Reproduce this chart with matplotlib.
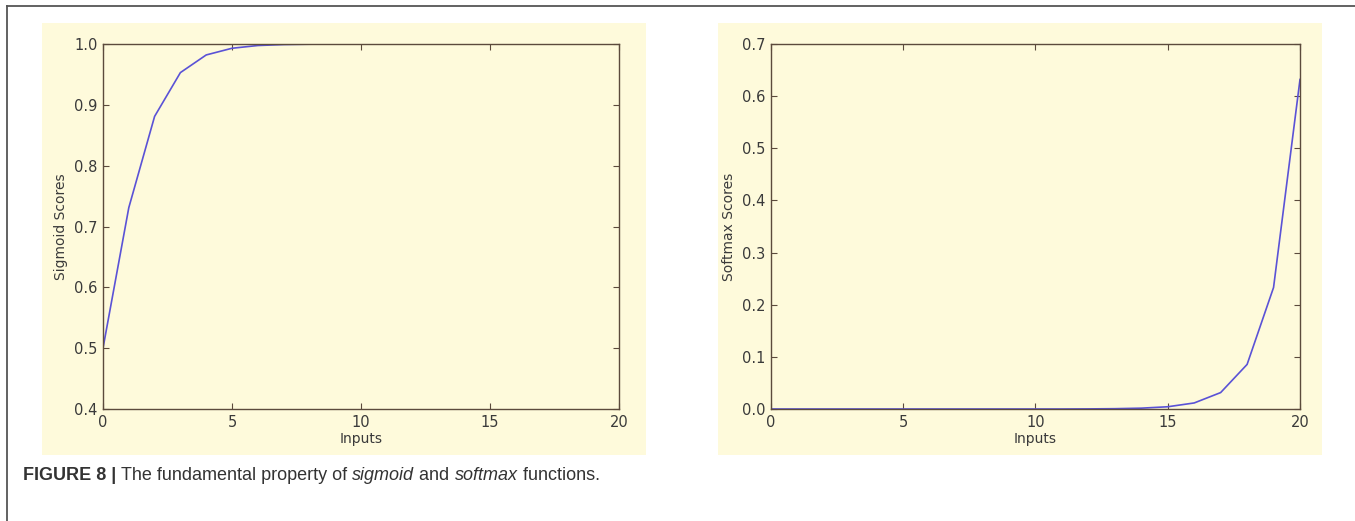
import matplotlib
matplotlib.use("Agg")
import matplotlib.pyplot as plt
from matplotlib.patches import Rectangle
from matplotlib.lines import Line2D

# values
inputs = list(range(21))
sigmoid_scores = [0.5, 0.731, 0.881, 0.953, 0.982, 0.993, 0.9975, 0.9991, 0.9997,
                  0.9999, 1.0, 1.0, 1.0, 1.0, 1.0, 1.0, 1.0, 1.0, 1.0, 1.0, 1.0]
softmax_scores = [0.0, 0.0, 0.0, 0.0, 0.0, 0.0, 0.0, 0.0, 0.0, 0.0, 0.0, 0.0,
                  0.0002, 0.0006, 0.0016, 0.0043, 0.0116, 0.0315, 0.0855, 0.233, 0.632]
sig_yticks = [0.4, 0.5, 0.6, 0.7, 0.8, 0.9, 1.0]
soft_yticks = [0.0, 0.1, 0.2, 0.3, 0.4, 0.5, 0.6, 0.7]
xticks = [0, 5, 10, 15, 20]

W, H = 1355, 521
bg = "#fefadb"
spine = "#5b4a3c"
txt = "#3a3a3a"
line_col = "#5a52d6"

fig = plt.figure(figsize=(W / 100, H / 100), dpi=100)


def px(x0, y0, x1, y1):
    # pixel box (top-left origin) -> figure fraction rect
    return [x0 / W, 1 - y1 / H, (x1 - x0) / W, (y1 - y0) / H]


# panel backgrounds
for x0, x1 in [(42, 646), (718, 1322)]:
    r = px(x0, 23, x1, 455)
    fig.patches.append(Rectangle((r[0], r[1]), r[2], r[3], transform=fig.transFigure,
                                 facecolor=bg, edgecolor="none", zorder=-5))

# open frame round the figure
fig.lines.append(Line2D([7 / W, 1], [1 - 6 / H, 1 - 6 / H], transform=fig.transFigure,
                        color="#555555", lw=1.3))
fig.lines.append(Line2D([7 / W, 7 / W], [1 - 6 / H, 0], transform=fig.transFigure,
                        color="#555555", lw=1.3))


def style(ax, yticks, ylabel):
    ax.set_facecolor(bg)
    ax.set_xlim(0, 20)
    ax.set_ylim(yticks[0], yticks[-1])
    ax.set_xticks(xticks)
    ax.set_yticks(yticks)
    ax.set_yticklabels([f"{t:.1f}" for t in yticks])
    ax.tick_params(direction="in", top=True, right=True, length=4, width=0.8,
                   colors=spine, labelcolor=txt, labelsize=10.5, pad=4)
    for s in ax.spines.values():
        s.set_color(spine)
        s.set_linewidth(1.0)
    ax.set_xlabel("Inputs", fontsize=10, color=txt, labelpad=2)
    ax.set_ylabel(ylabel, fontsize=10, color=txt, labelpad=4)


ax1 = fig.add_axes(px(103, 44, 619, 409))
ax1.plot(inputs, sigmoid_scores, color=line_col, lw=1.2)
style(ax1, sig_yticks, "Sigmoid Scores")

ax2 = fig.add_axes(px(771, 44, 1300, 409))
ax2.plot(inputs, softmax_scores, color=line_col, lw=1.2)
style(ax2, soft_yticks, "Softmax Scores")

# caption with mixed weights / styles
parts = [("FIGURE 8 | ", "bold", "normal"),
         ("The fundamental property of ", "normal", "normal"),
         ("sigmoid", "normal", "italic"),
         (" and ", "normal", "normal"),
         ("softmax", "normal", "italic"),
         (" functions.", "normal", "normal")]
fig.canvas.draw()
renderer = fig.canvas.get_renderer()
x = 23 / W
for s, w, st in parts:
    t = fig.text(x, 1 - 475 / H, s, fontsize=13, fontweight=w, fontstyle=st,
                 family=["Liberation Sans", "DejaVu Sans"], color="#333333",
                 va="center", ha="left")
    bb = t.get_window_extent(renderer)
    x += bb.width / W

fig.savefig("out.png", dpi=100)
